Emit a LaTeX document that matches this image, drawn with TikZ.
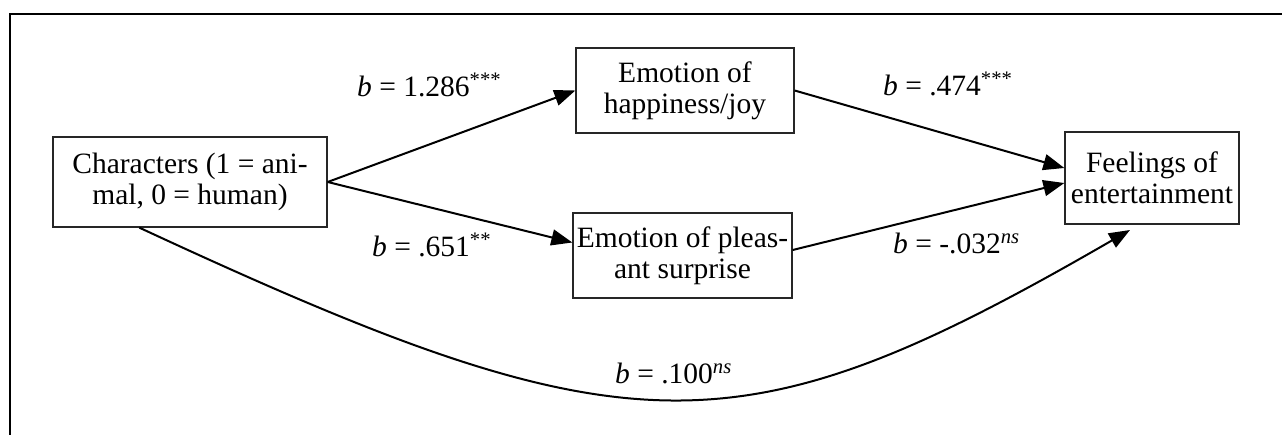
\documentclass[tikz,border=0pt]{standalone}
\usepackage{fontspec}
\setmainfont{Liberation Serif}
\usetikzlibrary{arrows.meta,calc}
\begin{document}
\begin{tikzpicture}[x=1pt,y=-1pt,
  box/.style={draw=black!85,line width=1.3pt,inner sep=0pt,align=center,
    font=\fontsize{29.5}{31}\selectfont},
  lab/.style={inner sep=0pt,anchor=base west,font=\fontsize{29.5}{31}\selectfont},
  arr/.style={line width=2pt,-{Triangle[length=21pt,width=16pt]}},
  frame/.style={line width=2.2pt}]
\useasboundingbox (0,0) rectangle (1282,434);
\coordinate (ftl) at (10,14);
\coordinate (ftr) at (1283,14);
\coordinate (fbl) at (10,435);
\draw[frame] (fbl) -- (ftl) -- (ftr);

\node[box,minimum width=274pt,minimum height=90pt] (chars) at (190,182)
  {Characters (1 = ani-\\mal, 0 = human)};
\node[box,minimum width=218pt,minimum height=85pt] (happy) at (685,90.5)
  {Emotion of\\happiness/joy};
\node[box,minimum width=219pt,minimum height=85pt] (surp) at (682.5,255.5)
  {Emotion of pleas-\\ant surprise};
\node[box,minimum width=174pt,minimum height=92pt] (feel) at (1152,178)
  {Feelings of\\entertainment};

\coordinate (cstart) at ($(chars.south west)+(87,0)$);
\coordinate (cend) at (1130,230);

\draw[arr] (chars.east) -- (happy.west);
\draw[arr] (chars.east) -- ($(surp.west)+(0,-13)$);
\draw[arr] (happy.east) -- ($(feel.west)+(0,-10)$);
\draw[arr] ($(surp.east)+(0,-5.5)$) -- ($(feel.west)+(0,5)$);
\draw[arr] (cstart) .. controls (631,456) and (739,456) .. (cend);

\node[lab] (l1) at (357,96) {\textit{b} = 1.286\textsuperscript{***}};
\node[lab] (l2) at (372,256) {\textit{b} = .651\textsuperscript{**}};
\node[lab] (l3) at (883,95) {\textit{b} = .474\textsuperscript{***}};
\node[lab] (l4) at (893,253) {\textit{b} = -.032\textsuperscript{\textit{ns}}};
\node[lab] (l5) at (615,383) {\textit{b} = .100\textsuperscript{\textit{ns}}};
\end{tikzpicture}
\end{document}
